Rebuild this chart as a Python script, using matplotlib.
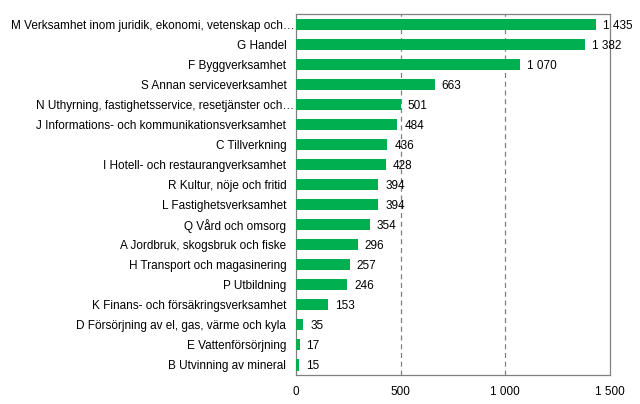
import matplotlib
matplotlib.use("Agg")
import matplotlib.pyplot as plt

plt.rcParams['font.family'] = ['Liberation Sans', 'DejaVu Sans']

labels = [
    "M Verksamhet inom juridik, ekonomi, vetenskap och…",
    "G Handel",
    "F Byggverksamhet",
    "S Annan serviceverksamhet",
    "N Uthyrning, fastighetsservice, resetjänster och…",
    "J Informations- och kommunikationsverksamhet",
    "C Tillverkning",
    "I Hotell- och restaurangverksamhet",
    "R Kultur, nöje och fritid",
    "L Fastighetsverksamhet",
    "Q Vård och omsorg",
    "A Jordbruk, skogsbruk och fiske",
    "H Transport och magasinering",
    "P Utbildning",
    "K Finans- och försäkringsverksamhet",
    "D Försörjning av el, gas, värme och kyla",
    "E Vattenförsörjning",
    "B Utvinning av mineral",
]
values = [1435, 1382, 1070, 663, 501, 484, 436, 428, 394, 394, 354, 296, 257, 246, 153, 35, 17, 15]
xticks = [0, 500, 1000, 1500]


def fmt(v):
    return f"{v:,}".replace(",", " ")


fig = plt.figure(figsize=(6.4, 4.04), dpi=100)
ax = fig.add_axes([0.4625, 0.072, 0.4905, 0.893])

fs = 8.5
pos = list(range(len(values)))
ax.barh(pos, values, height=0.56, color="#00B050", zorder=3)
for p, v in zip(pos, values):
    ax.annotate(fmt(v), (v, p), xytext=(5, 0), textcoords="offset points",
                va="center_baseline", ha="left", fontsize=fs, zorder=4)

# category labels: truncated ones run up to the axis, the rest keep a gap
ytr = ax.get_yaxis_transform()
for p, lab in zip(pos, labels):
    off = -1 if lab.endswith("…") else -7
    ax.annotate(lab, (0, p), xycoords=ytr, xytext=(off, 0),
                textcoords="offset points", va="center_baseline", ha="right",
                fontsize=fs, annotation_clip=False)

ax.set_ylim(len(values) - 0.5, -0.5)
ax.set_xlim(0, 1500)
ax.set_yticks([])
ax.set_xticks(xticks)
ax.set_xticklabels([fmt(t) for t in xticks], fontsize=fs)
ax.tick_params(axis="both", length=0)
ax.tick_params(axis="x", pad=8)

for t in xticks[1:-1]:
    ax.axvline(t, color="#808080", linestyle=(0, (4, 3)), linewidth=0.9, zorder=1)

for s in ax.spines.values():
    s.set_color("#808080")
    s.set_linewidth(0.9)

fig.savefig("out.png", dpi=100)
